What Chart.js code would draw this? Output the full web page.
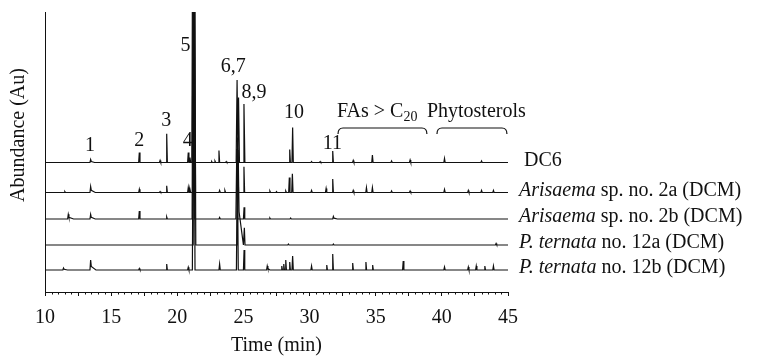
<!DOCTYPE html>
<html>
<head>
<meta charset="utf-8">
<script src="https://cdn.jsdelivr.net/npm/chart.js@4.4.0/dist/chart.umd.min.js"></script>
<style>
  html, body { margin: 0; padding: 0; background: #fff; }
  #wrap { width: 757px; height: 356px; }
</style>
</head>
<body>
<div id="wrap"><canvas id="chrom"></canvas></div>
<script>
/* GC-MS chromatograms, stacked traces. Peaks are [time (min), height (Au), tail (min, optional)] */
var INK = '#111';
var SERIF = "'Liberation Serif', 'Times New Roman', serif";

var traceItalic = ['', 'Arisaema', 'Arisaema', 'P. ternata', 'P. ternata'];
var traceRest = ['DC6', ' sp. no. 2a (DCM)', ' sp. no. 2b (DCM)', ' no. 12a (DCM)', ' no. 12b (DCM)'];
var traceOffsets = [129.5, 99.5, 73, 47, 22];

var dc6Peaks = [[13.45, 3, 0.3], [17.13, 10], [18.7, 2], [19.2, 28.7], [20.83, 10], [20.96, 5], [21.2, 400],
  [22.6, 1], [22.85, 1.5], [23.15, 12], [23.7, 1], [24.52, 82.5], [24.63, 65], [25.04, 58.5],
  [28.5, 13], [28.72, 35], [30.15, 1], [30.8, 1], [31.75, 11.5], [33.3, 2], [34.75, 7.5],
  [36.2, 1.5], [37.6, 2.5], [40.2, 4], [43.0, 1.5]];
var arisaema2aPeaks = [[11.5, 1], [13.45, 6, 0.35], [17.13, 3.3], [18.7, 1], [19.2, 6.7], [20.83, 5], [20.96, 3],
  [21.28, 380], [23.2, 2], [23.6, 2], [24.56, 55], [25.04, 25.7], [27.0, 1.5], [27.5, 1], [28.2, 1.5],
  [28.47, 15], [28.7, 18.7], [30.15, 2], [31.25, 4], [31.75, 13.4], [33.3, 2], [34.3, 5], [34.75, 5],
  [36.2, 1.5], [37.6, 1.5], [40.2, 3], [42.0, 2], [43.0, 2], [43.9, 2]];
var arisaema2bPeaks = [[11.76, 4.7, 0.4], [13.45, 4.7, 0.35], [17.13, 8], [19.2, 2], [21.22, 350], [23.2, 1.5],
  [24.5, 70], [25.05, 11.7], [27.0, 1], [28.57, 1], [31.8, 2.5, 0.3]];
var ternata12aPeaks = [[21.3, 300], [24.6, 95, 0.4], [25.07, 17.3], [28.4, 1], [31.8, 1], [44.1, 1.5]];
var ternata12bPeaks = [[11.4, 2, 0.3], [13.45, 10, 0.4], [17.13, 1.5], [19.2, 6], [20.83, 2.7], [21.24, 280],
  [23.2, 6], [24.54, 110], [25.05, 20], [26.8, 4, 0.2], [27.9, 4], [28.05, 6], [28.2, 10], [28.5, 8],
  [28.72, 14], [30.15, 4], [31.3, 5], [31.75, 16], [33.26, 7], [34.26, 8], [34.77, 5], [37.08, 9],
  [40.2, 3], [42.0, 3], [42.6, 4], [43.25, 4], [43.9, 4]];
var tracePeaks = [dc6Peaks, arisaema2aPeaks, arisaema2bPeaks, ternata12aPeaks, ternata12bPeaks];

var peakLabels = ['1', '2', '3', '4', '5', '6,7', '8,9', '10', '11'];
var peakLabelTimes = [13.4, 17.12, 19.17, 20.79, 20.62, 24.23, 25.8, 28.83, 31.72];
var peakLabelLevels = [146, 151, 171, 151, 246, 225, 199, 179, 148.5];

var groupStart = [32.15, 39.63];
var groupEnd = [38.87, 44.92];

function tracePoints(peaks, base) {
  var pts = [{ x: 10, y: base }];
  peaks.forEach(function (p) {
    var t = p[0], h = p[1], tail = p[2] || 0;
    var w = h > 150 ? 0.1 : (h > 50 ? 0.07 : 0.05);
    pts.push({ x: t - w, y: base }, { x: t, y: base + h });
    if (tail) { pts.push({ x: t + w, y: base + h * 0.35 }, { x: t + tail, y: base }); }
    else { pts.push({ x: t + w, y: base }); }
  });
  pts.push({ x: 45, y: base });
  return pts;
}

var annotate = {
  id: 'annotate',
  afterDraw: function (chart) {
    var ctx = chart.ctx, xs = chart.scales.x, ys = chart.scales.y, area = chart.chartArea;
    ctx.save();
    ctx.fillStyle = INK;
    ctx.strokeStyle = INK;

    /* minor ticks every 0.5 min */
    ctx.lineWidth = 1;
    for (var k = 0; k <= 70; k++) {
      if (k % 5 === 0) { continue; }
      var px = Math.round(xs.getPixelForValue(10 + k * 0.5)) + 0.5;
      ctx.beginPath(); ctx.moveTo(px, area.bottom); ctx.lineTo(px, area.bottom + 2.5); ctx.stroke();
    }

    /* peak numbers */
    ctx.font = '20px ' + SERIF;
    ctx.textAlign = 'center';
    ctx.textBaseline = 'middle';
    peakLabels.forEach(function (lab, i) {
      ctx.fillText(lab, xs.getPixelForValue(peakLabelTimes[i]), ys.getPixelForValue(peakLabelLevels[i]));
    });

    /* group labels + brackets */
    ctx.textAlign = 'left';
    var gy = ys.getPixelForValue(180);
    var fx = xs.getPixelForValue(32.07);
    ctx.fillText('FAs > C', fx, gy);
    var fw = ctx.measureText('FAs > C').width;
    ctx.font = '14px ' + SERIF;
    ctx.fillText('20', fx + fw, gy + 5);
    ctx.font = '20px ' + SERIF;
    ctx.fillText('Phytosterols', xs.getPixelForValue(38.87), gy);
    ctx.lineWidth = 1.2;
    var yTop = ys.getPixelForValue(164), yEnd = ys.getPixelForValue(158);
    groupStart.forEach(function (s, i) {
      var x1 = xs.getPixelForValue(s), x2 = xs.getPixelForValue(groupEnd[i]), r = 5;
      ctx.beginPath();
      ctx.moveTo(x1, yEnd);
      ctx.quadraticCurveTo(x1, yTop, x1 + r, yTop);
      ctx.lineTo(x2 - r, yTop);
      ctx.quadraticCurveTo(x2, yTop, x2, yEnd);
      ctx.stroke();
    });

    /* trace names */
    ctx.textBaseline = 'middle';
    traceRest.forEach(function (rest, i) {
      var x = area.right + (i === 0 ? 16 : 11);
      var y = ys.getPixelForValue(traceOffsets[i]) - 2;
      var w = 0;
      if (traceItalic[i]) {
        ctx.font = 'italic 20px ' + SERIF;
        ctx.fillText(traceItalic[i], x, y);
        w = ctx.measureText(traceItalic[i]).width;
      }
      ctx.font = '20px ' + SERIF;
      ctx.fillText(rest, x + w, y);
    });

    /* y title */
    ctx.translate(19, 135);
    ctx.rotate(-Math.PI / 2);
    ctx.textAlign = 'center';
    ctx.fillText('Abundance (Au)', 0, 0);
    ctx.restore();
  }
};

var datasets = tracePeaks.map(function (peaks, i) {
  return {
    label: traceItalic[i] + traceRest[i],
    data: tracePoints(peaks, traceOffsets[i]),
    borderColor: INK,
    borderWidth: 1.2,
    pointRadius: 0,
    tension: 0,
    fill: false,
    clip: 0
  };
});

new Chart(document.getElementById('chrom'), {
  type: 'line',
  data: { datasets: datasets },
  options: {
    responsive: true,
    maintainAspectRatio: false,
    animation: false,
    layout: { padding: { top: 12, right: 249, bottom: 0, left: 0 } },
    plugins: { legend: { display: false }, tooltip: { enabled: false } },
    scales: {
      x: {
        type: 'linear', min: 10, max: 45,
        afterFit: function (s) { s.height = 64; },
        border: { display: true, color: INK, width: 1 },
        grid: { display: true, drawOnChartArea: false, drawTicks: true, tickLength: 4, tickColor: INK, tickWidth: 1 },
        ticks: {
          stepSize: 2.5, autoSkip: false, maxRotation: 0, padding: 10, color: INK,
          font: { family: SERIF, size: 20 },
          callback: function (v) { return v % 5 === 0 ? String(v) : ''; }
        },
        title: { display: true, text: 'Time (min)', color: INK, font: { family: SERIF, size: 20, lineHeight: 1 }, padding: { top: 0, bottom: 0 } }
      },
      y: {
        type: 'linear', min: 0, max: 280,
        afterFit: function (s) { s.width = 45; },
        border: { display: true, color: INK, width: 1 },
        grid: { display: false, drawTicks: false },
        ticks: { display: false }
      }
    }
  },
  plugins: [annotate]
});
</script>
</body>
</html>
